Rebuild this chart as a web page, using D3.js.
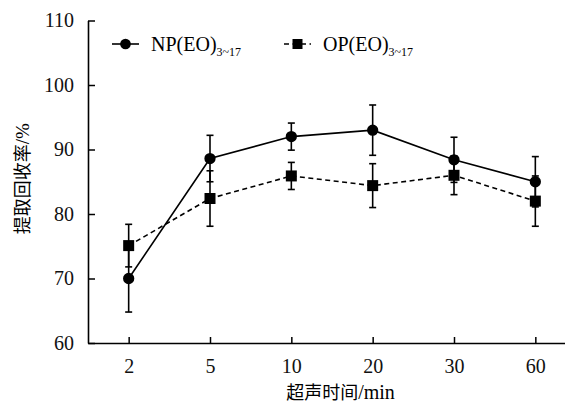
<!DOCTYPE html>
<html>
<head>
<meta charset="utf-8">
<script src="https://cdn.jsdelivr.net/npm/d3@7"></script>
<style>
  body { margin: 0; background: #fff; }
  svg { display: block; }
</style>
</head>
<body>
<div id="chart"></div>
<script>
const categories = ["2", "5", "10", "20", "30", "60"]
const npValues = [70.0, 88.6, 92.0, 93.0, 88.4, 85.0]
const npErrors = [5.2, 3.6, 2.1, 3.9, 3.5, 3.9]
const opValues = [75.1, 82.4, 85.9, 84.4, 86.0, 82.0]
const opErrors = [3.3, 4.3, 2.1, 3.4, 3.0, 3.9]
const yTicks = [60, 70, 80, 90, 100, 110]

const width = 565, height = 405
const margin = {top: 20.5, right: -11, bottom: 62, left: 88}
const serif = "Liberation Serif"
const cjk = "Noto Sans CJK SC"

const svg = d3.select("#chart")
  .append("svg")
    .attr("width", width)
    .attr("height", height)

const x = d3.scalePoint()
  .domain(categories)
  .range([margin.left, width - margin.right])
  .padding(0.5)

const y = d3.scaleLinear()
  .domain([60, 110])
  .range([height - margin.bottom, margin.top])

function styleAxis(g) {
  g.select(".domain").attr("stroke-width", 1.6)
  g.selectAll(".tick line").attr("stroke-width", 1.5)
  g.selectAll(".tick text")
    .style("font-family", serif)
    .style("font-size", "20px")
    .attr("fill", "#111")
}

// axes, ticks pointing inside
svg.append("g")
  .attr("transform", "translate(0," + (height - margin.bottom) + ")")
  .call(d3.axisBottom(x).tickSize(-6).tickSizeOuter(0).tickPadding(16))
  .call(styleAxis)

svg.append("g")
  .attr("transform", "translate(" + margin.left + ",0)")
  .call(d3.axisLeft(y).tickValues(yTicks).tickSize(-7).tickSizeOuter(0).tickPadding(14))
  .call(styleAxis)

const xl = svg.append("text")
  .attr("x", (margin.left + width) / 2 + 14)
  .attr("y", 399)
  .attr("text-anchor", "middle")
  .style("font-size", "18px")
xl.append("tspan").style("font-family", cjk).text("超声时间")
xl.append("tspan").style("font-family", serif).style("font-size", "20px").text("/min")

const yl = svg.append("text")
  .attr("transform", "translate(29," + ((margin.top + height - margin.bottom) / 2 - 3) + ") rotate(-90)")
  .attr("text-anchor", "middle")
  .style("font-size", "18px")
yl.append("tspan").style("font-family", cjk).text("提取回收率")
yl.append("tspan").style("font-family", serif).style("font-size", "19px").text("/%")

const series = [
  {name: "NP", values: npValues, errors: npErrors, dash: null, shape: "circle"},
  {name: "OP", values: opValues, errors: opErrors, dash: "5,3.5", shape: "square"}
]

function drawSeries(s) {
  const pts = categories.map((c, i) => ({c: c, v: s.values[i], e: s.errors[i]}))
  const eb = svg.append("g").attr("stroke", "#000").attr("stroke-width", 1.6)
  pts.forEach(d => {
    const cx = x(d.c)
    eb.append("line").attr("x1", cx).attr("x2", cx).attr("y1", y(d.v - d.e)).attr("y2", y(d.v + d.e))
    eb.append("line").attr("x1", cx - 3.5).attr("x2", cx + 3.5).attr("y1", y(d.v - d.e)).attr("y2", y(d.v - d.e))
    eb.append("line").attr("x1", cx - 3.5).attr("x2", cx + 3.5).attr("y1", y(d.v + d.e)).attr("y2", y(d.v + d.e))
  })
  svg.append("path")
    .datum(pts)
    .attr("fill", "none")
    .attr("stroke", "#000")
    .attr("stroke-width", 1.6)
    .attr("stroke-dasharray", s.dash)
    .attr("d", d3.line().x(d => x(d.c)).y(d => y(d.v)))
  const sym = d3.symbol().type(s.shape === "circle" ? d3.symbolCircle : d3.symbolSquare).size(s.shape === "circle" ? 100 : 121)
  svg.append("g").selectAll("path")
    .data(pts)
    .join("path")
      .attr("transform", d => "translate(" + x(d.c) + "," + y(d.v) + ")")
      .attr("d", sym)
      .attr("fill", "#000")
}
series.forEach(drawSeries)

// legend
function legendItem(lx, s, label) {
  const ly = 44
  svg.append("line")
    .attr("x1", lx).attr("x2", lx + 27).attr("y1", ly).attr("y2", ly)
    .attr("stroke", "#000").attr("stroke-width", 1.6)
    .attr("stroke-dasharray", s.dash)
  svg.append("path")
    .attr("transform", "translate(" + (lx + 13.5) + "," + ly + ")")
    .attr("d", d3.symbol().type(s.shape === "circle" ? d3.symbolCircle : d3.symbolSquare).size(s.shape === "circle" ? 90 : 100))
    .attr("fill", "#000")
  const t = svg.append("text")
    .attr("x", lx + 39).attr("y", ly + 7)
    .style("font-family", serif)
    .style("font-size", "20px")
  t.append("tspan").text(label)
  t.append("tspan").style("font-size", "12px").attr("dy", 5).text("3~17")
}
legendItem(112, series[0], "NP(EO)")
legendItem(284, series[1], "OP(EO)")
</script>
</body>
</html>
